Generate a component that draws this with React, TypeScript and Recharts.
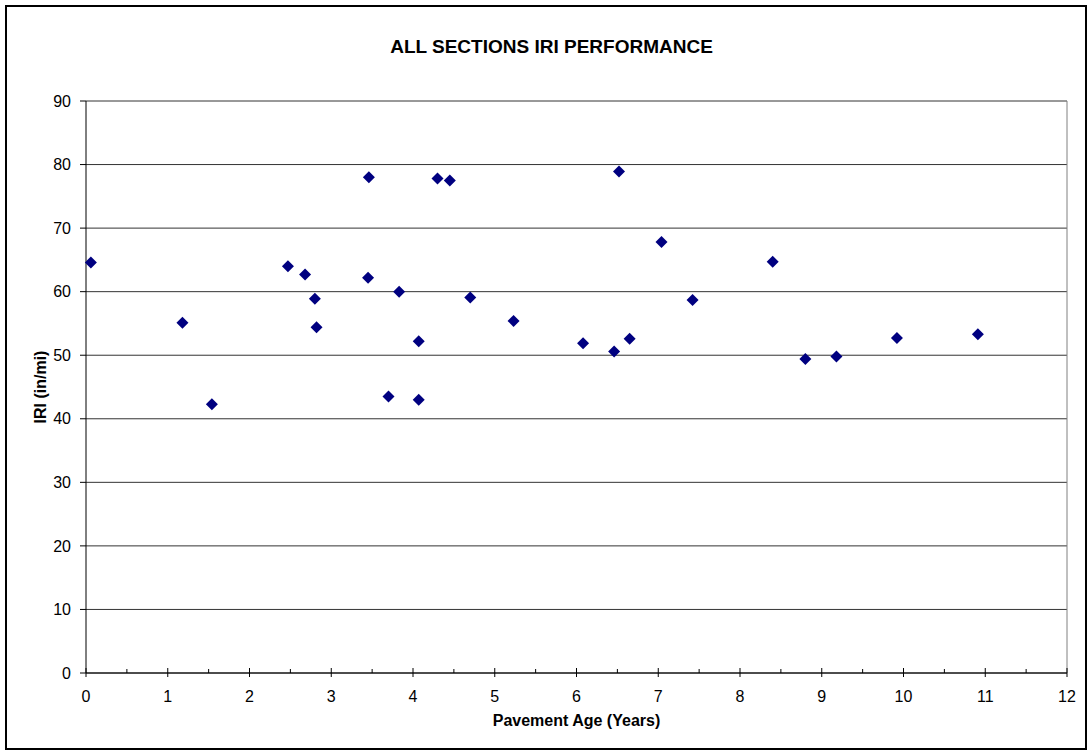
import { CartesianGrid, Label, ReferenceLine, Scatter, ScatterChart, XAxis, YAxis } from "recharts";

const ages = [0.06, 1.18, 1.54, 2.47, 2.68, 2.8, 2.82, 3.46, 3.45, 3.7, 3.83, 4.07, 4.07, 4.3, 4.45, 4.7, 5.23, 6.08, 6.46, 6.52, 6.65, 7.04, 7.42, 8.4, 8.8, 9.18, 9.92, 10.91];
const iriValues = [64.6, 55.1, 42.3, 64.0, 62.7, 58.9, 54.4, 78.0, 62.2, 43.5, 60.0, 52.2, 43.0, 77.8, 77.5, 59.1, 55.4, 51.9, 50.6, 78.9, 52.6, 67.8, 58.7, 64.7, 49.4, 49.8, 52.7, 53.3];

const xTicks = [0, 0.5, 1, 1.5, 2, 2.5, 3, 3.5, 4, 4.5, 5, 5.5, 6, 6.5, 7, 7.5, 8, 8.5, 9, 9.5, 10, 10.5, 11, 11.5, 12];
const yTicks = [0, 10, 20, 30, 40, 50, 60, 70, 80, 90];

const TITLE = "ALL SECTIONS IRI PERFORMANCE";
const X_LABEL = "Pavement Age (Years)";
const Y_LABEL = "IRI (in/mi)";

const data = ages.map((age, i) => ({ age, iri: iriValues[i] }));

const FONT = "'Liberation Sans', Arial, sans-serif";

function XTick(props: any) {
  const { x, y, payload } = props;
  const v = payload.value as number;
  const major = Number.isInteger(v);
  return (
    <g>
      <line x1={x} x2={x} y1={major ? y - 5 : y - 4} y2={major ? y + 4 : y} stroke="#000" />
      {major && (
        <text x={x} y={y + 23} textAnchor="middle" dominantBaseline="central" fontSize={16} fill="#000" fontFamily={FONT}>
          {v}
        </text>
      )}
    </g>
  );
}

function Diamond(props: any) {
  const { cx, cy } = props;
  const r = 6;
  return <polygon points={`${cx},${cy - r} ${cx + r},${cy} ${cx},${cy + r} ${cx - r},${cy}`} fill="#000080" />;
}

export default function App() {
  return (
    <div
      style={{
        position: "absolute",
        left: 5,
        top: 5,
        width: 1082,
        height: 745,
        boxSizing: "border-box",
        border: "2px solid #000",
        background: "#fff",
        fontFamily: FONT,
      }}
    >
      <div
        style={{
          position: "absolute",
          left: 0,
          top: 30,
          width: 1089,
          textAlign: "center",
          fontSize: 19,
          lineHeight: "19px",
          fontWeight: "bold",
          color: "#000",
        }}
      >
        {TITLE}
      </div>
      <ScatterChart width={1078} height={741} margin={{ top: 94, right: 18, bottom: 0, left: 0 }}>
        <CartesianGrid vertical={false} stroke="#333" strokeOpacity={1} />
        <XAxis
          dataKey="age"
          type="number"
          domain={[0, 12]}
          ticks={xTicks}
          interval={0}
          height={75}
          tickSize={0}
          tickMargin={0}
          tickLine={false}
          tick={<XTick />}
          axisLine={{ stroke: "#000" }}
        >
          <Label value={X_LABEL} position="insideBottom" offset={22} style={{ fontSize: 16, fontWeight: "bold", fill: "#000", fontFamily: FONT }} />
        </XAxis>
        <YAxis
          dataKey="iri"
          type="number"
          domain={[0, 90]}
          ticks={yTicks}
          interval={0}
          width={79}
          tickSize={6}
          tickMargin={9}
          tick={{ fontSize: 16, fill: "#000", fontFamily: FONT }}
          tickLine={{ stroke: "#000" }}
          axisLine={{ stroke: "#000" }}
        >
          <Label
            value={Y_LABEL}
            angle={-90}
            position="insideLeft"
            offset={33}
            style={{ fontSize: 16, fontWeight: "bold", fill: "#000", fontFamily: FONT, textAnchor: "middle" }}
          />
        </YAxis>
        <ReferenceLine x={12} stroke="#808080" />
        <Scatter data={data} shape={<Diamond />} isAnimationActive={false} />
      </ScatterChart>
    </div>
  );
}
